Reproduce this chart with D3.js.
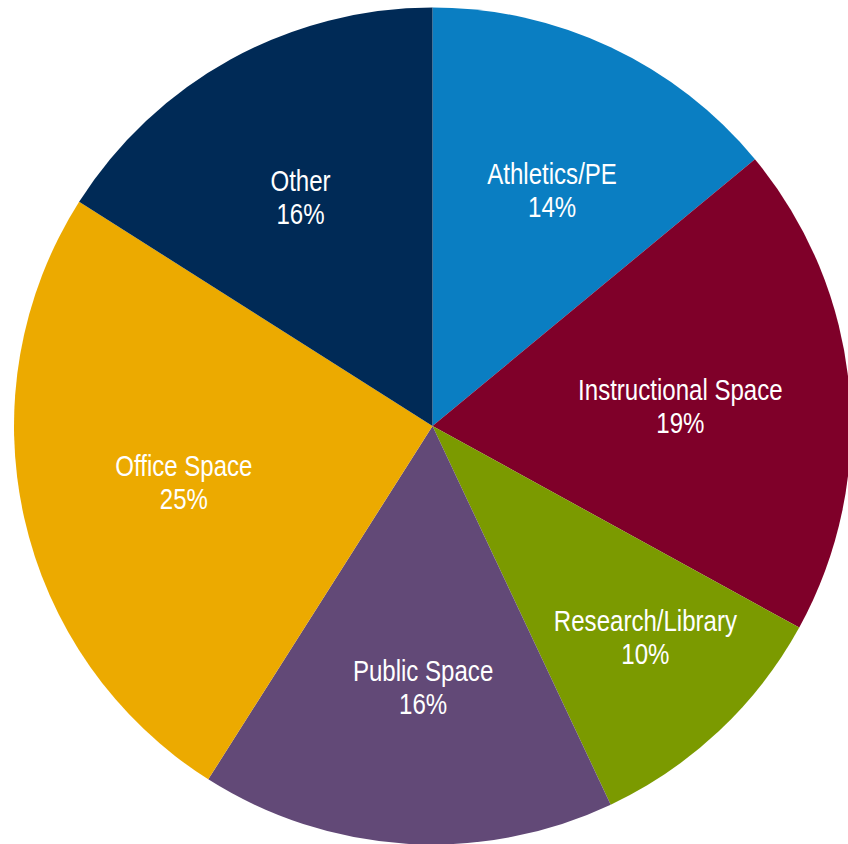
<!DOCTYPE html>
<html>
<head>
<meta charset="utf-8">
<script src="https://cdn.jsdelivr.net/npm/d3@7"></script>
<style>
  html, body { margin: 0; padding: 0; background: #ffffff; }
  svg { display: block; }
  .lbl { font-family: "Liberation Sans", Arial, sans-serif; fill: #ffffff; }
</style>
</head>
<body>
<svg id="chart" width="848" height="844"></svg>
<script>
// Share of space by use, clockwise from 12 o'clock
const categories = ["Athletics/PE", "Instructional Space", "Research/Library", "Public Space", "Office Space", "Other"];
const shares = [14, 19, 10, 16, 25, 16];
const colors = ["#0a7ec2", "#7f0029", "#7b9a00", "#624977", "#ecaa00", "#002a56"];
// label placement: distance from the pie centre and a small angular nudge (degrees)
const labelRadius = [268, 249, 297, 257, 254, 268];
const labelTurn = [1.3, -0.1, -2.6, -1.5, 0.8, -0.7];

const svg = d3.select("#chart");
const cx = 432.5, cy = 426, R = 418.5;

const g = svg.append("g").attr("transform", `translate(${cx},${cy})`);

const pie = d3.pie().sort(null).value(d => d.v);
const arcs = pie(categories.map((c, i) => ({ c, v: shares[i], i })));
const arc = d3.arc().innerRadius(0).outerRadius(R);

g.selectAll("path.slice")
  .data(arcs)
  .join("path")
  .attr("class", "slice")
  .attr("d", arc)
  .attr("fill", d => colors[d.data.i]);

// condensed look: regular sans squeezed horizontally
const fontSize = 29;
const squeeze = 0.83;
const lineGap = 33;

const labels = g.selectAll("g.label")
  .data(arcs)
  .join("g")
  .attr("class", "label")
  .attr("transform", d => {
    const a = (d.startAngle + d.endAngle) / 2 + labelTurn[d.data.i] * Math.PI / 180;
    const r = labelRadius[d.data.i];
    return `translate(${Math.sin(a) * r},${-Math.cos(a) * r}) scale(${squeeze},1)`;
  });

labels.append("text")
  .attr("class", "lbl")
  .attr("text-anchor", "middle")
  .attr("font-size", fontSize)
  .attr("y", -2)
  .text(d => d.data.c);

labels.append("text")
  .attr("class", "lbl")
  .attr("text-anchor", "middle")
  .attr("font-size", fontSize)
  .attr("y", -2 + lineGap)
  .text(d => d.data.v + "%");
</script>
</body>
</html>
